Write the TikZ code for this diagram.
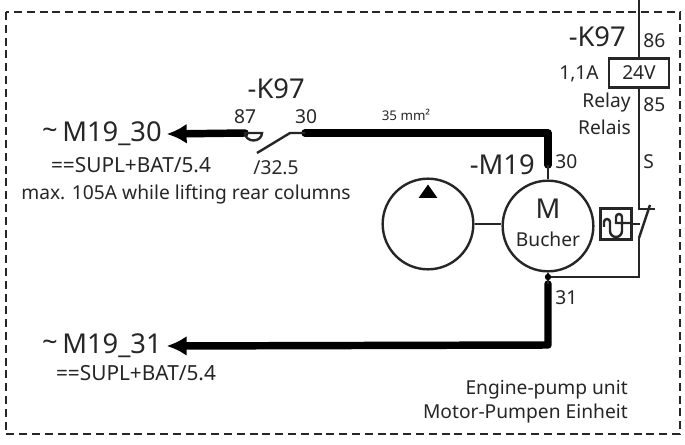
\documentclass[tikz,border=0pt]{standalone}
\usepackage{fontspec}
\setmainfont{Noto Sans}
\usetikzlibrary{positioning,calc,arrows.meta,shapes.geometric}
\begin{document}
\begin{tikzpicture}[x=0.75pt,y=-0.75pt]
	\tikzset{
		lbl/.style={inner sep=0pt,font=\fontsize{14.4}{17}\selectfont,text=black!85},
		lblref/.style={inner sep=0pt,font=\fontsize{15.6}{18}\selectfont,text=black!85},
		lblbig/.style={inner sep=0pt,font=\fontsize{20.5}{24}\selectfont,text=black!85},
		thinwire/.style={draw=black!85,line width=1.8pt},
		thickwire/.style={draw=black,line width=5.6pt,line cap=round},
		frameline/.style={draw=black!85,line width=2.2pt,dash pattern=on 6pt off 3.6pt},
		unit/.style={shape=circle,draw=black!85,line width=1.8pt,fill=white,inner sep=0pt,minimum size=68pt}
	}
	\useasboundingbox (0,0) rectangle (685,445);
	\draw[frameline] (6,12) rectangle (680,434);

	% motor and pump
	\node[unit] (pump) at (428,224) {};
	\node[unit] (motor) at (548,226) {};
	\draw[thinwire] (pump.east) -- (pump.east -| motor.west);
	\node[shape=isosceles triangle,shape border rotate=90,fill=black,inner sep=0pt,minimum width=14pt,minimum height=10pt,isosceles triangle stretches] (pumptip) at (428,193) {};
	\node[lblbig] (motorM) at (548,209) {M};
	\node[lbl] (motorname) at (548,239) {Bucher};

	% coil
	\coordinate (supply) at (639,0);
	\node[draw=black!85,line width=1.8pt,minimum width=45pt,minimum height=22pt,inner sep=0pt,lbl] (coil) at (639,73) {24V};
	\node[lblbig,anchor=east] (coilname) at (626,37) {-K97};
	\node[lbl,anchor=west] (pin86) at (643,41) {86};
	\node[lbl,anchor=west] (pin85) at (643,105) {85};
	\node[lbl,anchor=east] (current) at (599,74) {1,1A};
	\node[lbl,anchor=east] (relayde) at (631,103) {Relay};
	\node[lbl,anchor=east] (relayen) at (631,127) {Relais};
	\node[lbl,anchor=west] (pinS) at (643,162) {S};
	\coordinate (switchtop) at (639,209);
	\coordinate (switchend) at (639,238);
	\coordinate (switchcorner) at (639,277);
	\draw[thinwire] (supply) -- (coil.north);
	\draw[thinwire] (coil.south) -- (switchtop) -- (655,209);
	\draw[thinwire] (switchend) -- (650,205);
	\draw[thinwire] (switchend) -- (switchcorner) -- (548,277);

	% thermal box
	\node[draw=black!85,line width=1.8pt,minimum size=23pt,inner sep=0pt] (thermal) at (616,224) {};
	\draw[thinwire] (thermal.east) -- (640,224);
	\draw[thinwire] (604,227) -- (604,222) arc (180:0:2.25pt) -- (610,231) arc (180:360:4.5pt) -- (622,217) arc (0:180:2.25pt) -- (616,223) -- (632,223);

	% power path
	\node[lblbig,anchor=east] (contactname) at (305,89) {-K97};
	\node[lbl,anchor=center] (pin87) at (245,117) {87};
	\node[lbl,anchor=center] (pin30) at (306,117) {30};
	\node[font=\fontsize{10}{12}\selectfont,inner sep=0pt,text=black!85] (cable) at (406,115) {35 mm²};
	\node[lbl] (contactref) at (276,168) {/32.5};
	\node[lblbig,anchor=east] (motorlabel) at (535,165) {-M19};
	\node[lbl,anchor=west] (pintop) at (555,162) {30};
	\node[lbl,anchor=west] (pinbot) at (555,298) {31};
	\coordinate (contactL) at (245,133);
	\coordinate (contactM) at (262,133);
	\coordinate (bladeA) at (257,153);
	\coordinate (bladeB) at (290,133);
	\coordinate (bladeC) at (305,133);
	\coordinate (cornertop) at (548,133);
	\coordinate (thicktopend) at (548,165);
	\coordinate (junction) at (548,277);
	\coordinate (thickbotstart) at (548,284);
	\coordinate (cornerbot) at (548,345);

	\node[lblbig,anchor=east] (m1930) at (162,134) {M19\_30};
	\node[lblbig,anchor=east] (tilde1) at (58,134) {\textasciitilde};
	\node[lblref] (ref1) at (131,165) {==SUPL+BAT/5.4};
	\node[lbl] (note) at (186,194) {max. 105A while lifting rear columns};
	\node[lblbig,anchor=east] (m1931) at (162,346) {M19\_31};
	\node[lblbig,anchor=east] (tilde2) at (58,346) {\textasciitilde};
	\node[lblref] (ref2) at (136,373) {==SUPL+BAT/5.4};
	\node[lbl,anchor=east] (unit1) at (628,390) {Engine-pump unit};
	\node[lbl,anchor=east] (unit2) at (628,414) {Motor-Pumpen Einheit};

	\draw[thickwire,-{Latex[length=15pt,width=15pt]}] (contactL) -- ([xshift=3.5pt]m1930.east);
	\draw[thickwire,line join=round] (bladeC) -- (cornertop) -- (thicktopend);
	\draw[thickwire,line join=round,-{Latex[length=15pt,width=15pt]}] (thickbotstart) -- (cornerbot) -- ([xshift=3.5pt]m1931.east);
	\draw[thinwire] (contactL) arc (180:360:8.5*0.75pt and 7.5*0.75pt) -- cycle;
	\draw[thinwire] (bladeA) -- (bladeB) -- (bladeC);
	\draw[thinwire] (thicktopend) -- (motor.north);
	\draw[thinwire] (motor.south) -- (thickbotstart);
	\fill[black] (junction) circle (2.4pt);
\end{tikzpicture}
\end{document}
